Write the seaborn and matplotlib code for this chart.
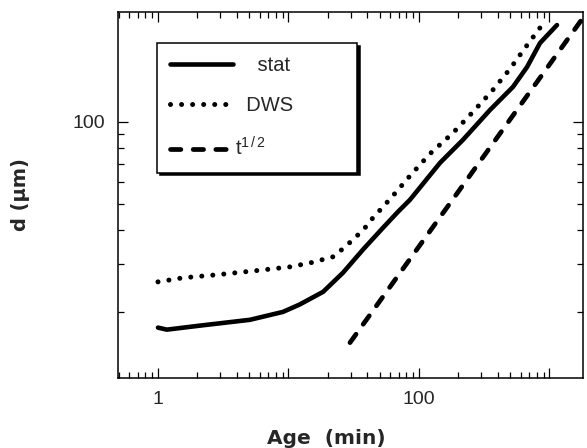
import numpy as np
import pandas as pd
import matplotlib
matplotlib.use("Agg")
import matplotlib.pyplot as plt
from matplotlib.ticker import FixedLocator, FixedFormatter, NullFormatter
import seaborn as sns

# ---- data ----
stat_age = [1.0, 1.17, 2.1, 5.07, 9.08, 12.2, 18.4, 26.2, 37.2, 53.0, 69.0, 85.3,
            145, 217, 350, 525, 673, 846, 1141]
stat_d = [17.6, 17.3, 17.9, 18.8, 20.1, 21.4, 23.8, 28.0, 34.0, 40.9, 46.8, 51.8,
          70.8, 85.9, 110.6, 134.4, 159, 194.7, 226.6]
dws_age = [1.0, 1.55, 2.83, 5.74, 10.3, 15.1, 21.9, 26.2, 32.4, 38.6, 44.4, 53.0,
           62.1, 85.3, 121, 182, 259, 363, 498, 649, 877]
dws_d = [25.9, 26.8, 27.5, 28.5, 29.4, 30.5, 32.0, 34.3, 37.6, 40.9, 44.5, 48.8,
         53.1, 63.4, 76.3, 91.1, 108.8, 129.9, 156.4, 186.6, 226.6]
t_age = [29.6, 1871]
t_d = [15.5, 246.6]

x_major = [1, 10, 100, 1000]
x_labels = ["1", "", "100", ""]
y_major = [100]
y_labels = ["100"]
y_minor = [20, 30, 40, 50, 60, 70, 80, 90]

sns.set_style("ticks")
plt.rcParams["font.family"] = ["Liberation Sans", "DejaVu Sans"]
plt.rcParams["mathtext.fontset"] = "custom"
plt.rcParams["mathtext.rm"] = "Liberation Sans"
plt.rcParams["mathtext.it"] = "Liberation Sans"

fig = plt.figure(figsize=(5.87, 4.48), dpi=100)
ax = fig.add_axes([118 / 587, 1 - 378 / 448, (583 - 118) / 587, (378 - 12) / 448])

sns.lineplot(x=stat_age, y=stat_d, ax=ax, color="black", lw=3.3, sort=False,
             estimator=None, label="    stat", solid_capstyle="round")
sns.lineplot(x=dws_age, y=dws_d, ax=ax, color="black", lw=3.6, sort=False,
             estimator=None, label="  DWS", linestyle=(0, (0.01, 2.2)),
             dash_capstyle="round")
sns.lineplot(x=t_age, y=t_d, ax=ax, color="black", lw=3.4, sort=False,
             estimator=None, label="t$^{1\\,/\\,2}$", linestyle=(0, (2.2, 2.6)),
             dash_capstyle="round")

ax.set_xscale("log")
ax.set_yscale("log")
ax.set_xlim(0.494, 1806)
ax.set_ylim(11.5, 253)

ax.xaxis.set_major_locator(FixedLocator(x_major))
ax.xaxis.set_major_formatter(FixedFormatter(x_labels))
ax.xaxis.set_minor_formatter(NullFormatter())
ax.yaxis.set_major_locator(FixedLocator(y_major))
ax.yaxis.set_major_formatter(FixedFormatter(y_labels))
ax.yaxis.set_minor_locator(FixedLocator(y_minor))
ax.yaxis.set_minor_formatter(NullFormatter())

ax.tick_params(which="both", direction="in", top=True, right=True, color="black",
               width=0.9)
ax.tick_params(which="major", length=7, pad=9, labelsize=14)
ax.tick_params(which="minor", length=4)
for s in ax.spines.values():
    s.set_linewidth(1.1)
    s.set_color("black")

ax.set_xlabel("Age  (min)", fontsize=14.5, fontweight="bold",
              family="DejaVu Sans")
ax.xaxis.set_label_coords(0.448, -0.138)
ax.set_ylabel("d (μm)", fontsize=14, fontweight="bold", family="DejaVu Sans")
ax.yaxis.set_label_coords(-0.19, 0.5)

leg_x0 = (157 - 118) / 465
leg_top = 1 - (43 - 12) / 366
leg = ax.legend(loc="upper left",
                bbox_to_anchor=(leg_x0, leg_top - 0.1, 200 / 465, 0.1),
                mode="expand", borderaxespad=0, frameon=True, fancybox=False,
                shadow={"color": "black", "alpha": 1.0}, fontsize=14.5,
                handlelength=3.1, handletextpad=0.1, labelspacing=1.05,
                borderpad=0.65)
leg.get_frame().set_edgecolor("black")
leg.get_frame().set_linewidth(1.1)
leg.get_frame().set_alpha(1)

fig.savefig("out.png", dpi=100)
